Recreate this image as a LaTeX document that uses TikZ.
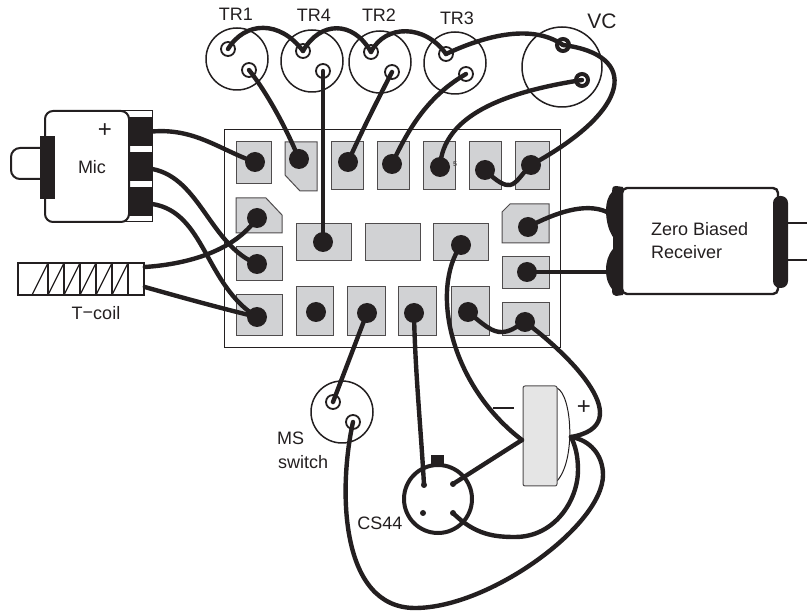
\documentclass[tikz,border=0pt]{standalone}
\usepackage{fontspec}
\setmainfont{Liberation Sans}
\definecolor{ink}{HTML}{231F20}
\definecolor{padgray}{HTML}{D1D2D4}
\tikzset{
  padbox/.style={draw=ink!80,line width=1pt,fill=padgray,inner sep=0pt,outer sep=0pt},
  pdot/.style={circle,fill=ink,inner sep=0pt,minimum size=20pt},
  wire/.style={draw=ink,line width=4.4pt,line cap=round},
  ringnode/.style={circle,draw=ink,line width=1.8pt,fill=white,inner sep=0pt,minimum size=14pt},
  bigring/.style={circle,draw=ink,line width=1.5pt,fill=white,inner sep=0pt},
  label/.style={text=ink,inner sep=0pt,font=\fontsize{18}{21}\selectfont},
  csdot/.style={circle,fill=ink,inner sep=0pt,minimum size=6pt},
}
\newcommand{\padat}[5]{\node[padbox,minimum width=#4pt-#2pt,minimum height=#5pt-#3pt] (#1) at ({(#2+#4)/2},{(#3+#5)/2}) {};}
\begin{document}
\begin{tikzpicture}[x=1pt,y=-1pt]
\useasboundingbox (0,0) rectangle (807,612);
% board
\node[draw=ink,line width=1pt,fill=white,minimum width=336pt,minimum height=218pt,inner sep=0pt] (board) at (392,239) {};
% pads
\padat{padA}{236}{142}{271}{184}
\draw[padbox] (285,142) -- (317,142) -- (317,191) -- (300,191) -- (285,175) -- cycle;
\padat{padC}{331}{142}{363}{190}
\padat{padD}{377}{142}{409}{190}
\padat{padE}{423}{142}{455}{190}
\padat{padF}{469}{142}{501}{190}
\padat{padG}{515}{142}{549}{190}
\draw[padbox] (236,198) -- (266,198) -- (282,215) -- (282,233) -- (236,233) -- cycle;
\padat{padI}{236}{247}{282}{281}
\padat{padJ}{236}{295}{282}{336}
\padat{padK}{296}{224}{351}{261}
\padat{padL}{365}{224}{420}{261}
\padat{padM}{433}{224}{488}{261}
\padat{padN}{296}{287}{333}{336}
\padat{padO}{347}{287}{385}{336}
\padat{padP}{398}{287}{436}{336}
\padat{padQ}{451}{287}{489}{336}
\padat{padR}{502}{303}{549}{336}
\draw[padbox] (510,204) -- (549,204) -- (549,243) -- (502,243) -- (502,212) -- cycle;
\padat{padT}{502}{257}{549}{289}
% pad dots
\node[pdot] (dA) at (255,162) {};
\node[pdot] (dB) at (299,159) {};
\node[pdot] (dC) at (348,162) {};
\node[pdot] (dD) at (392,164) {};
\node[pdot] (dE) at (440,167) {};
\node[pdot] (dF) at (485,170) {};
\node[pdot] (dG) at (531,165) {};
\node[pdot] (dH) at (257,218) {};
\node[pdot] (dI) at (257,264) {};
\node[pdot] (dJ) at (257,317) {};
\node[pdot] (dK) at (323,242) {};
\node[pdot] (dM) at (461,245) {};
\node[pdot] (dN) at (316,312) {};
\node[pdot] (dO) at (367,313) {};
\node[pdot] (dP) at (414,313) {};
\node[pdot] (dQ) at (468,312) {};
\node[pdot] (dR) at (525,322) {};
\node[pdot] (dS) at (528,227) {};
\node[pdot] (dT) at (527,272) {};
\node[text=ink!80,inner sep=0pt,font=\fontsize{7}{8}\selectfont\bfseries] (five) at (455,164) {5};
% transistor circles
\node[bigring,minimum size=62pt] (tr1) at (237,59) {};
\node[bigring,minimum size=62pt] (tr4) at (312,61) {};
\node[bigring,minimum size=62pt] (tr2) at (380,62) {};
\node[bigring,minimum size=62pt] (tr3) at (455,63) {};
\node[bigring,minimum size=80pt] (vc) at (562,67) {};
\node[bigring,minimum size=62pt] (ms) at (342,412) {};
\node[ringnode] (tr1a) at (228,49) {};
\node[ringnode] (tr1b) at (249,70) {};
\node[ringnode] (tr4a) at (303,51) {};
\node[ringnode] (tr4b) at (323,71) {};
\node[ringnode] (tr2a) at (371,52) {};
\node[ringnode] (tr2b) at (392,72) {};
\node[ringnode] (tr3a) at (446,54) {};
\node[ringnode] (tr3b) at (466,74) {};
\node[ringnode,line width=4pt,minimum size=12pt] (vca) at (563,45) {};
\node[ringnode,line width=4pt,minimum size=12pt] (vcb) at (582,80) {};
\node[ringnode] (msa) at (333,402) {};
\node[ringnode] (msb) at (353,422) {};
% labels
\node[label] (lTR1) at (236,14) {TR1};
\node[label] (lTR4) at (314,15) {TR4};
\node[label] (lTR2) at (379,15) {TR2};
\node[label] (lTR3) at (457,18) {TR3};
\node[label,font=\fontsize{21}{24}\selectfont] (lVC) at (602,21) {VC};
% mic
\node[draw=ink,line width=2pt,fill=white,rounded corners=9pt,minimum width=40pt,minimum height=31pt,inner sep=0pt] (stub) at (31,163.5) {};
\draw[ink,line width=1pt] (120,111) -- (152,111) -- (152,222) -- (120,222);
\node[draw=ink,line width=2pt,fill=white,rounded corners=8pt,minimum width=84pt,minimum height=111pt,inner sep=0pt] (mic) at (87,166.5) {};
\node[fill=ink,minimum width=15pt,minimum height=63pt,inner sep=0pt] (micbar) at (47.5,167.5) {};
\node[fill=ink,minimum width=23pt,minimum height=29pt,inner sep=0pt] (mb1) at (140.5,131.5) {};
\node[fill=ink,minimum width=23pt,minimum height=29pt,inner sep=0pt] (mb2) at (140.5,166.5) {};
\node[fill=ink,minimum width=23pt,minimum height=29pt,inner sep=0pt] (mb3) at (140.5,201.5) {};
\node[label,font=\fontsize{24}{27}\selectfont] (lplus) at (105,131) {+};
\node[label] (lMic) at (92,167) {Mic};
% T-coil
\node[draw=ink,line width=1.6pt,fill=white,minimum width=126pt,minimum height=32pt,inner sep=0pt] (coil) at (81,279) {};
\foreach \cx in {48,64,80,96,112,128}{
  \draw[ink,line width=1.3pt] (\cx,263) -- (\cx,295);
  \draw[ink,line width=1.3pt] (\cx-16,295) -- (\cx,263);
}
\node[label] (lTcoil) at (96,313) {T\raisebox{0.15ex}{−}coil};
% receiver
\draw[ink,line width=2pt] (788,223) -- (807,223) (788,260) -- (807,260);
\node[draw=ink,line width=2.4pt,fill=white,rounded corners=5pt,minimum width=156pt,minimum height=106pt,inner sep=0pt] (recv) at (700,241) {};
\node[fill=ink,rounded corners=7pt,minimum width=15pt,minimum height=92pt,inner sep=0pt] (rr) at (780.5,242) {};
\fill[ink] (623,187) -- (616,186) .. controls (612,186) and (612,189) .. (612,192)
  .. controls (608,196) and (606,203) .. (606,210) .. controls (606,222) and (609,231) .. (613,237)
  -- (613,249) .. controls (608,255) and (606,262) .. (606,270) .. controls (606,280) and (609,285) .. (612,289)
  .. controls (612,294) and (613,296) .. (616,296) -- (623,295) -- cycle;
\coordinate (recvA) at (607,212);
\coordinate (recvB) at (607,272);
\node[label,anchor=west] (lZero) at (651,229.5) {Zero Biased};
\node[label,anchor=west] (lRecv) at (651,252.5) {Receiver};
% MS labels
\node[label,anchor=west] (lMS) at (277,438) {MS};
\node[label,anchor=west] (lsw) at (278,462) {switch};
% speaker
\draw[ink,line width=1pt] (557,388) .. controls (572,395) and (576,460) .. (557,481);
\node[draw=ink!80,line width=1pt,fill=black!10,rounded corners=2pt,minimum width=34pt,minimum height=100pt,inner sep=0pt] (spk) at (540,436) {};
\coordinate (spkL) at (522,440);
\coordinate (spkR) at (571,437);
\node[fill=ink,minimum width=21pt,minimum height=2.6pt,inner sep=0pt] (lminus) at (503,408) {};
\node[label,font=\fontsize{24}{27}\selectfont] (lplus2) at (584,408) {+};
% CS44
\node[fill=ink,minimum width=13pt,minimum height=11pt,inner sep=0pt] (cstab) at (437.5,461) {};
\node[circle,draw=ink,line width=4pt,fill=white,minimum size=68pt,inner sep=0pt] (cs) at (438,499) {};
\node[csdot] (csa) at (424,485) {};
\node[csdot] (csb) at (453,484) {};
\node[csdot] (csc) at (423,513) {};
\node[csdot] (csd) at (453,513) {};
\node[label] (lCS) at (380,523) {CS44};
% wires
\draw[wire] (tr1a.center) .. controls (245,21) and (280,20) .. (tr4a.center);
\draw[wire] (tr4a.center) .. controls (320,21) and (353,20) .. (tr2a.center);
\draw[wire] (tr2a.center) .. controls (385,24) and (425,24) .. (tr3a.center);
\draw[wire] (tr3a.center) .. controls (480,38) and (530,22) .. (vca.center);
\draw[wire] (tr1b.center) .. controls (265,90) and (285,125) .. (dB.center);
\draw[wire] (tr4b.center) -- (dK.center);
\draw[wire] (tr2b.center) .. controls (375,105) and (360,135) .. (dC.center);
\draw[wire] (tr3b.center) .. controls (430,95) and (410,125) .. (dD.center);
\draw[wire] (vcb.center) .. controls (505,92) and (443,115) .. (dE.center);
\draw[wire] (vca.center) .. controls (640,55) and (632,110) .. (dG.center);
\draw[wire] (dF.center) .. controls (497,182) and (505,186) .. (510,185) .. controls (517,184) and (523,172) .. (dG.center);
\draw[wire] (dQ.center) .. controls (483,324) and (492,333) .. (503,332) .. controls (513,331) and (518,325) .. (dR.center);
\draw[wire] (mb1.east) .. controls (195,128) and (220,150) .. (dA.center);
\draw[wire] (mb2.east|-0,169) .. controls (200,178) and (210,245) .. (dI.center);
\draw[wire] (mb3.east|-0,204) .. controls (205,212) and (205,285) .. (dJ.center);
\draw[wire] (coil.east|-0,267) .. controls (190,264) and (235,250) .. (dH.center);
\draw[wire] (coil.east|-0,287) .. controls (180,297) and (220,308) .. (dJ.center);
\draw[wire] (dS.center) .. controls (555,213) and (585,202) .. (recvA);
\draw[wire] (dT.center) -- (recvB);
\draw[wire] (msa.center) -- (dO.center);
\draw[wire] (csa.center) .. controls (421,430) and (415,370) .. (dP.center);
\draw[wire] (csb.center) -- (spkL);
\draw[wire] (dM.center) .. controls (430,290) and (450,385) .. (spkL);
\draw[wire] (dR.center) .. controls (570,355) and (640,425) .. (spkR);
\draw[wire] (csd.center) .. controls (475,535) and (495,537) .. (515,537) .. controls (555,537) and (578,500) .. (578,470) .. controls (578,455) and (575,445) .. (spkR);
\draw[wire] (msb.center) .. controls (338,490) and (340,608) .. (415,608) .. controls (490,608) and (603,525) .. (603,475) .. controls (603,455) and (590,440) .. (spkR);
\end{tikzpicture}
\end{document}
